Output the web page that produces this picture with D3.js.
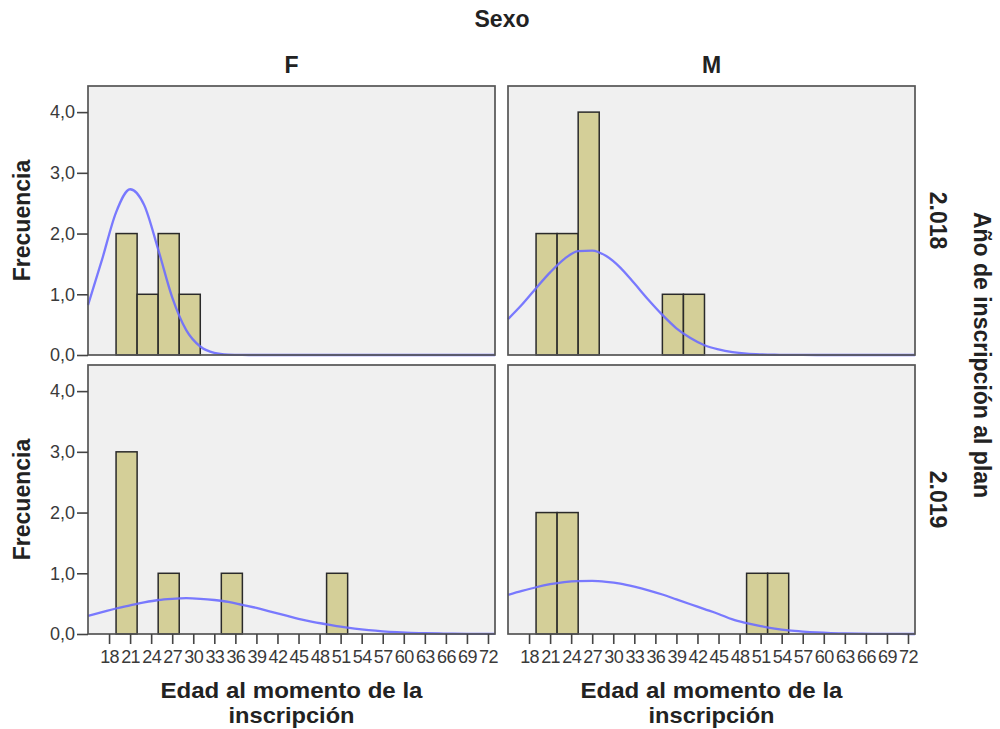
<!DOCTYPE html>
<html>
<head>
<meta charset="utf-8">
<script src="https://cdn.jsdelivr.net/npm/d3@7"></script>
<style>
  html, body { margin: 0; padding: 0; background: #fff; }
  svg { display: block; font-family: "Liberation Sans", Arial, sans-serif; }
</style>
</head>
<body>
<svg id="chart" width="1000" height="729"></svg>
<script>
// ---------- DATA ----------
const sexes = ["F", "M"];
const years = ["2.018", "2.019"];
const binStarts = [19, 22, 25, 28, 31, 34, 37, 40, 43, 46, 49, 52, 55];
const binWidth = 3;
const countsF2018 = [2, 1, 2, 1, 0, 0, 0, 0, 0, 0, 0, 0, 0];
const countsM2018 = [2, 2, 4, 0, 0, 0, 1, 1, 0, 0, 0, 0, 0];
const countsF2019 = [3, 0, 1, 0, 0, 1, 0, 0, 0, 0, 1, 0, 0];
const countsM2019 = [2, 2, 0, 0, 0, 0, 0, 0, 0, 0, 1, 1, 0];

// normal-curve readings (frequency) at these ages
const curveAges = [15,17,19,21,23,25,27,29,31,33,35,37,39,41,43,45,47,49,51,53,55,57,59,61,63,65,67,69,71,73];
const curveF2018 = [0.82,1.57,2.35,2.73,2.47,1.74,0.95,0.41,0.14,0.035,0.007,0.001,0,0,0,0,0,0,0,0,0,0,0,0,0,0,0,0,0,0];
const curveM2018 = [0.59,0.83,1.10,1.36,1.58,1.71,1.72,1.63,1.44,1.18,0.91,0.66,0.44,0.28,0.16,0.091,0.047,0.022,0.010,0.004,0.0015,0.0005,0,0,0,0,0,0,0,0];
const curveF2019 = [0.30,0.36,0.42,0.47,0.52,0.56,0.58,0.59,0.58,0.56,0.53,0.48,0.43,0.37,0.31,0.25,0.20,0.16,0.12,0.088,0.063,0.044,0.030,0.020,0.013,0.008,0.005,0.003,0.002,0.001];
const curveM2019 = [0.645,0.71,0.77,0.82,0.855,0.872,0.875,0.86,0.83,0.78,0.72,0.65,0.57,0.49,0.41,0.33,0.24,0.18,0.13,0.09,0.06,0.04,0.025,0.015,0.009,0.005,0.003,0.001,0.001,0];

const xTickValues = [18,21,24,27,30,33,36,39,42,45,48,51,54,57,60,63,66,69,72];
const yTickValues = [0, 1, 2, 3, 4];
const xDomain = [15, 73];
const yDomain = [0, 4.43];

const panels = [
  { sex: "F", year: "2.018", col: 0, row: 0, counts: countsF2018, curve: curveF2018 },
  { sex: "M", year: "2.018", col: 1, row: 0, counts: countsM2018, curve: curveM2018 },
  { sex: "F", year: "2.019", col: 0, row: 1, counts: countsF2019, curve: curveF2019 },
  { sex: "M", year: "2.019", col: 1, row: 1, counts: countsM2019, curve: curveM2019 }
];

// ---------- LAYOUT ----------
const colX = [88, 508];
const rowY = [86, 365];
const pw = 407, ph = 269;

const svg = d3.select("#chart");
const locale = d3.formatLocale({ decimal: ",", thousands: ".", grouping: [3], currency: ["", ""] });
const fmt = locale.format(".1f");

const titleFont = "bold 23px 'Liberation Sans', Arial, sans-serif";
const axTitleFont = "bold 22px 'Liberation Sans', Arial, sans-serif";

// Sexo header
svg.append("text").attr("x", 502).attr("y", 27).attr("text-anchor", "middle")
  .style("font", titleFont).attr("fill", "#222").text("Sexo");

panels.forEach(p => {
  const x0 = colX[p.col], y0 = rowY[p.row];
  const x = d3.scaleLinear().domain(xDomain).range([x0, x0 + pw]);
  const y = d3.scaleLinear().domain(yDomain).range([y0 + ph, y0]);
  const g = svg.append("g");

  g.append("rect").attr("x", x0).attr("y", y0).attr("width", pw).attr("height", ph)
    .attr("fill", "#f0f0f0");

  // bars
  const bars = binStarts.map((s, i) => ({ s, c: p.counts[i] })).filter(d => d.c > 0);
  g.selectAll("rect.bar").data(bars).join("rect").attr("class", "bar")
    .attr("x", d => x(d.s)).attr("width", d => x(d.s + binWidth) - x(d.s))
    .attr("y", d => y(d.c)).attr("height", d => y(0) - y(d.c))
    .attr("fill", "#d4cf98").attr("stroke", "#2a2a2a").attr("stroke-width", 1.5);

  // normal curve
  const line = d3.line().x(d => x(d[0])).y(d => y(d[1])).curve(d3.curveMonotoneX);
  g.append("path").datum(curveAges.map((a, i) => [a, p.curve[i]]))
    .attr("d", line).attr("fill", "none").attr("stroke", "#6b6bff")
    .attr("stroke-width", 2.3).attr("stroke-opacity", 0.9);

  // frame
  g.append("rect").attr("x", x0).attr("y", y0).attr("width", pw).attr("height", ph)
    .attr("fill", "none").attr("stroke", "#555").attr("stroke-width", 1.7);

  // y axis (left column)
  if (p.col === 0) {
    const ax = g.append("g").attr("transform", `translate(${x0},0)`)
      .call(d3.axisLeft(y).tickValues(yTickValues).tickFormat(fmt).tickSize(11).tickPadding(2));
    ax.select(".domain").remove();
    ax.selectAll("line").attr("stroke", "#444").attr("stroke-width", 1.6);
    ax.selectAll("text").style("font", "18px 'Liberation Sans', Arial, sans-serif").attr("fill", "#3a3a3a");
    svg.append("text")
      .attr("transform", `translate(30,${y0 + ph / 2}) rotate(-90)`)
      .attr("text-anchor", "middle").style("font", titleFont).attr("fill", "#222")
      .text("Frecuencia");
  }
  // x axis (bottom row)
  if (p.row === 1) {
    const ax = g.append("g").attr("transform", `translate(0,${y0 + ph})`)
      .call(d3.axisBottom(x).tickValues(xTickValues).tickFormat(d3.format("d")).tickSize(10).tickPadding(6));
    ax.select(".domain").remove();
    ax.selectAll("line").attr("stroke", "#444").attr("stroke-width", 1.6);
    ax.selectAll("text").style("font", "18px 'Liberation Sans', Arial, sans-serif").attr("fill", "#3a3a3a")
      .attr("letter-spacing", "-0.6px");
    const cx = x0 + pw / 2;
    svg.append("text").attr("x", cx).attr("y", 698).attr("text-anchor", "middle")
      .attr("textLength", 262).attr("lengthAdjust", "spacingAndGlyphs")
      .style("font", axTitleFont).attr("fill", "#222").text("Edad al momento de la");
    svg.append("text").attr("x", cx).attr("y", 723).attr("text-anchor", "middle")
      .attr("textLength", 126).attr("lengthAdjust", "spacingAndGlyphs")
      .style("font", axTitleFont).attr("fill", "#222").text("inscripción");
  }
  // column header
  if (p.row === 0) {
    svg.append("text").attr("x", x0 + pw / 2).attr("y", 73).attr("text-anchor", "middle")
      .style("font", titleFont).attr("fill", "#222").text(p.sex);
  }
  // row label
  if (p.col === 1) {
    svg.append("text")
      .attr("transform", `translate(930,${y0 + ph / 2}) rotate(90)`)
      .attr("text-anchor", "middle").style("font", titleFont).attr("fill", "#222")
      .text(p.year);
  }
});

svg.append("text")
  .attr("transform", `translate(974,355) rotate(90)`)
  .attr("text-anchor", "middle").style("font", titleFont).attr("fill", "#222")
  .text("Año de inscripción al plan");
</script>
</body>
</html>
